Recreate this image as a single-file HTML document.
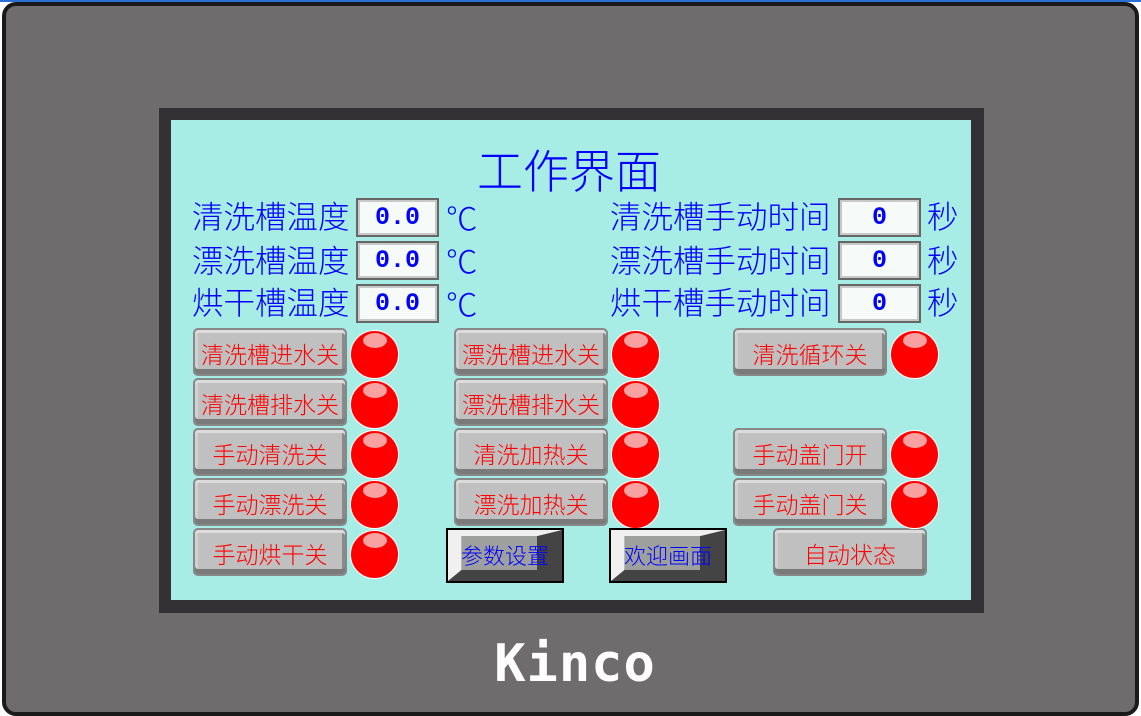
<!DOCTYPE html>
<html><head><meta charset="utf-8"><style>
*{margin:0;padding:0;box-sizing:border-box}
body{width:1141px;height:716px;background:#fff;position:relative;overflow:hidden;font-family:"Liberation Sans","Noto Sans CJK SC",sans-serif}
.a{position:absolute}
.lbl{position:absolute;color:#0000ff;font-size:31.5px;line-height:34px;white-space:nowrap;font-family:"Noto Sans CJK SC","WenQuanYi Zen Hei",sans-serif;font-weight:300}
.box{position:absolute;width:83px;height:39px;background:#f6fbf9;border:2px solid #666;box-shadow:inset 0 0 0 2px #c8c8c8;color:#0000ff;font:bold 25px/35px "Liberation Mono",monospace;text-align:center}
.btn{position:absolute;width:154px;height:48px;background:#c0c0c0;border:2px solid #888;border-radius:5px;box-shadow:inset 0 3px 0 #dcdcdc,inset 0 -5px 0 #7a7a7a,inset 3px 0 0 #d0d0d0,inset -3px 0 0 #8a8a8a;color:#ff0000;font-size:23px;line-height:46px;text-align:center;font-family:"Noto Sans CJK SC","WenQuanYi Zen Hei",sans-serif;font-weight:300;white-space:nowrap}
.led{position:absolute;width:49px;height:49px;border-radius:50%;background:#ff0000;border:1px solid #fff}
.led:after{content:"";position:absolute;left:12px;top:2px;width:24px;height:15px;border-radius:50%;background:#f9a0a0}
.pb{position:absolute;width:118px;height:55px;border:2px solid #000;background:#444}
.pb .t{position:absolute;left:0;top:0;width:100%;height:100%;background:#f0f0f0;clip-path:polygon(0 0,100% 0,78% 12%,12% 12%,12% 78%,0 100%)}
.pb .f{position:absolute;left:12%;top:12%;width:66%;height:66%;background:#9ea09e}
.pb .s{position:absolute;left:0;top:0;width:100%;text-align:center;color:#0000ff;font-size:22px;line-height:51px;font-family:"Noto Sans CJK SC",sans-serif;font-weight:300;white-space:nowrap}
</style></head><body>
<div class="a" style="left:0;top:0;width:1141px;height:2px;background:#2a6fd6"></div>
<div class="a" style="left:2px;top:2px;width:1137px;height:714px;background:#6e6c6d;border:4px solid #1a1a1a;border-radius:14px"></div>
<div class="a" style="left:159px;top:108px;width:825px;height:505px;background:#333133"></div>
<div class="a" style="left:171px;top:120px;width:800px;height:480px;background:#a8ece6"></div>
<div class="lbl" style="left:477px;top:144px;font-size:46px;line-height:50px">工作界面</div>
<div class="lbl" style="left:192px;top:198px">清洗槽温度</div>
<div class="lbl" style="left:192px;top:242px">漂洗槽温度</div>
<div class="lbl" style="left:192px;top:284px">烘干槽温度</div>
<div class="box" style="left:356px;top:198px">0.0</div>
<div class="box" style="left:356px;top:241px">0.0</div>
<div class="box" style="left:356px;top:284px">0.0</div>
<div class="lbl" style="left:446px;top:200px">℃</div>
<div class="lbl" style="left:446px;top:243px">℃</div>
<div class="lbl" style="left:446px;top:286px">℃</div>
<div class="lbl" style="left:610px;top:198px">清洗槽手动时间</div>
<div class="lbl" style="left:610px;top:242px">漂洗槽手动时间</div>
<div class="lbl" style="left:610px;top:284px">烘干槽手动时间</div>
<div class="box" style="left:838px;top:198px">0</div>
<div class="box" style="left:838px;top:241px">0</div>
<div class="box" style="left:838px;top:284px">0</div>
<div class="lbl" style="left:927px;top:198px">秒</div>
<div class="lbl" style="left:927px;top:242px">秒</div>
<div class="lbl" style="left:927px;top:284px">秒</div>

<div class="btn" style="left:193px;top:328px">清洗槽进水关</div>
<div class="btn" style="left:193px;top:378px">清洗槽排水关</div>
<div class="btn" style="left:193px;top:428px">手动清洗关</div>
<div class="btn" style="left:193px;top:478px">手动漂洗关</div>
<div class="btn" style="left:193px;top:528px">手动烘干关</div>
<div class="led" style="left:350px;top:330px"></div>
<div class="led" style="left:350px;top:380px"></div>
<div class="led" style="left:350px;top:430px"></div>
<div class="led" style="left:350px;top:480px"></div>
<div class="led" style="left:350px;top:530px"></div>

<div class="btn" style="left:454px;top:328px">漂洗槽进水关</div>
<div class="btn" style="left:454px;top:378px">漂洗槽排水关</div>
<div class="btn" style="left:454px;top:428px">清洗加热关</div>
<div class="btn" style="left:454px;top:478px">漂洗加热关</div>
<div class="led" style="left:611px;top:330px"></div>
<div class="led" style="left:611px;top:380px"></div>
<div class="led" style="left:611px;top:430px"></div>
<div class="led" style="left:611px;top:480px"></div>

<div class="btn" style="left:733px;top:328px">清洗循环关</div>
<div class="btn" style="left:733px;top:428px">手动盖门开</div>
<div class="btn" style="left:733px;top:478px">手动盖门关</div>
<div class="btn" style="left:773px;top:528px">自动状态</div>
<div class="led" style="left:890px;top:330px"></div>
<div class="led" style="left:890px;top:430px"></div>
<div class="led" style="left:890px;top:480px"></div>

<div class="pb" style="left:446px;top:528px"><div class="t"></div><div class="f"></div><div class="s">参数设置</div></div>
<div class="pb" style="left:609px;top:528px"><div class="t"></div><div class="f"></div><div class="s">欢迎画面</div></div>

<div class="a" style="left:440px;top:632px;width:270px;text-align:center;color:#fff;font:bold 52px/64px 'DejaVu Sans Mono','Liberation Mono',monospace;letter-spacing:1px">Kinco</div>
</body></html>
